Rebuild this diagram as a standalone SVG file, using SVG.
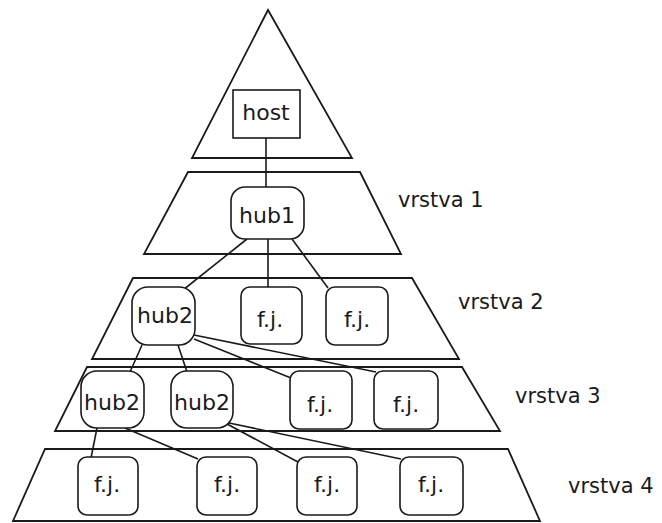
<svg xmlns="http://www.w3.org/2000/svg" width="662" height="523" viewBox="0 0 662 523">
<style>
.layer{fill:#fff;stroke:#1a1a1a;stroke-width:1.8;stroke-linejoin:miter}
.box{fill:#fff;stroke:#1a1a1a;stroke-width:1.6}
.conn line{stroke:#1a1a1a;stroke-width:1.6}
text{font-family:"DejaVu Sans","Verdana",sans-serif;font-size:22px;fill:#1a1a1a;text-anchor:middle}
.lbl{font-size:21px;text-anchor:start}
</style>
<rect width="662" height="523" fill="#fff"/>
<g id="layers">
  <polygon id="layer0" class="layer" points="268,10 352,158 192,158"/>
  <polygon id="layer1" class="layer" points="188,172 360,172 401,254 144,254"/>
  <polygon id="layer2" class="layer" points="133,278 412,278 459,359 92,359"/>
  <polygon id="layer3" class="layer" points="87,367 462,367 500,431 55,431"/>
  <polygon id="layer4" class="layer" points="45,449 508,449 540,521 13,521"/>
</g>
<g id="labels">
  <text class="lbl" x="398" y="207">vrstva 1</text>
  <text class="lbl" x="458" y="309">vrstva 2</text>
  <text class="lbl" x="515" y="403">vrstva 3</text>
  <text class="lbl" x="568" y="493">vrstva 4</text>
</g>
<g id="connectors" class="conn">
  <line x1="266" y1="138" x2="266" y2="187"/>
  <line x1="247" y1="239" x2="183" y2="290"/>
  <line x1="268" y1="239" x2="268" y2="287"/>
  <line x1="292" y1="239" x2="328" y2="288"/>
  <line x1="142" y1="345" x2="130" y2="372"/>
  <line x1="178" y1="345" x2="187" y2="372"/>
  <line x1="194" y1="339" x2="291" y2="378"/>
  <line x1="194" y1="335" x2="376" y2="372"/>
  <line x1="97" y1="428" x2="91" y2="458"/>
  <line x1="125" y1="428" x2="198" y2="459"/>
  <line x1="227" y1="424" x2="298" y2="462"/>
  <line x1="229" y1="423" x2="401" y2="459"/>
</g>
<g id="host"><rect class="box" x="233" y="90" width="67" height="48"/><text x="266" y="120">host</text></g>
<g id="hub1"><rect class="box" x="231" y="187" width="73" height="52" rx="14"/><text x="267" y="223">hub1</text></g>
<g id="hub2_l2"><rect class="box" x="132" y="287" width="63" height="58" rx="16"/><text x="165" y="323">hub2</text></g>
<g id="fj_l2_1"><rect class="box" x="241" y="287" width="61" height="57" rx="9"/><text x="270" y="327">f.j.</text></g>
<g id="fj_l2_2"><rect class="box" x="326" y="287" width="62" height="58" rx="9"/><text x="357" y="327">f.j.</text></g>
<g id="hub2_l3_1"><rect class="box" x="81" y="371" width="63" height="57" rx="16"/><text x="112" y="410">hub2</text></g>
<g id="hub2_l3_2"><rect class="box" x="171" y="371" width="62" height="57" rx="16"/><text x="202" y="410">hub2</text></g>
<g id="fj_l3_1"><rect class="box" x="290" y="371" width="62" height="58" rx="9"/><text x="320" y="412">f.j.</text></g>
<g id="fj_l3_2"><rect class="box" x="374" y="371" width="64" height="58" rx="9"/><text x="406" y="412">f.j.</text></g>
<g id="fj_l4_1"><rect class="box" x="78" y="457" width="60" height="58" rx="9"/><text x="107" y="492">f.j.</text></g>
<g id="fj_l4_2"><rect class="box" x="197" y="457" width="60" height="58" rx="9"/><text x="227" y="492">f.j.</text></g>
<g id="fj_l4_3"><rect class="box" x="297" y="457" width="60" height="58" rx="9"/><text x="327" y="492">f.j.</text></g>
<g id="fj_l4_4"><rect class="box" x="400" y="457" width="63" height="58" rx="9"/><text x="431" y="492">f.j.</text></g>
</svg>
